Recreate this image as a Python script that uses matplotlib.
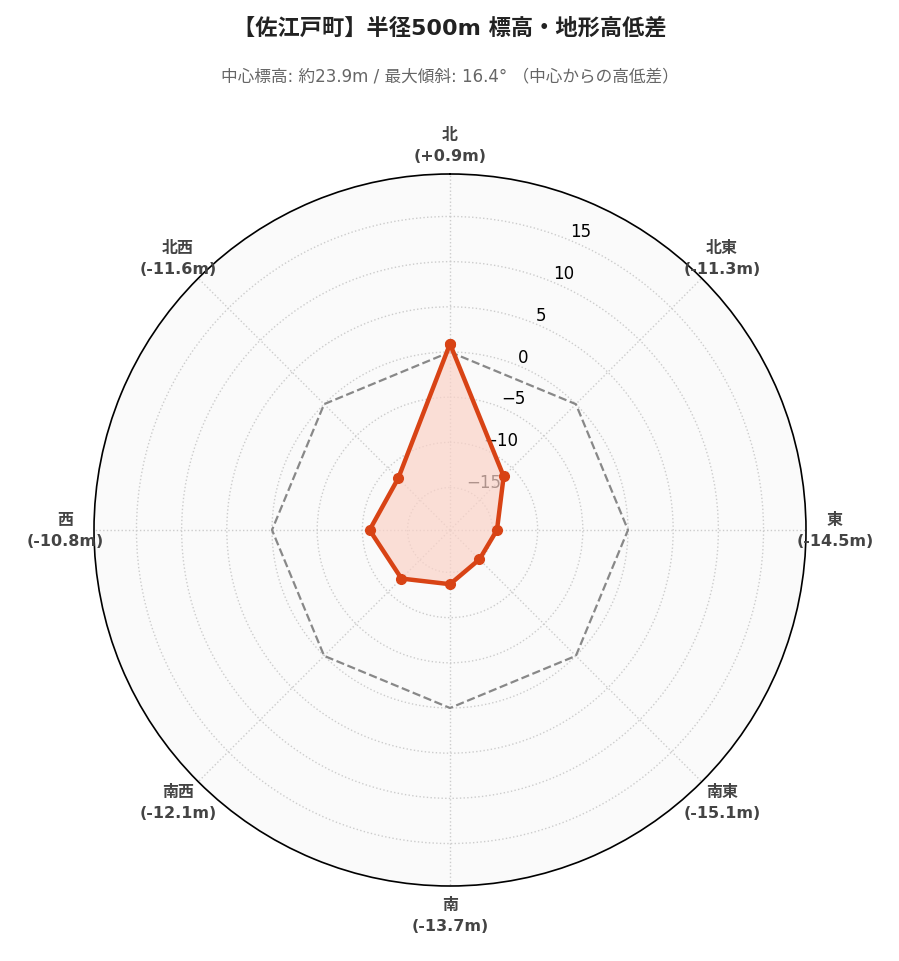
import numpy as np
import matplotlib.pyplot as plt

plt.rcParams['font.family'] = ['DejaVu Sans', 'Noto Sans CJK JP']

directions = ['北', '北東', '東', '南東', '南', '南西', '西', '北西']
diffs = [0.9, -11.3, -14.5, -15.1, -13.7, -12.1, -10.8, -11.6]
rticks = [-15, -10, -5, 0, 5, 10, 15]
rlim = 19.7

angles = np.deg2rad(np.arange(len(directions)) * 45)
ang_closed = np.append(angles, angles[0])
vals_closed = np.append(diffs, diffs[0])

fig = plt.figure(figsize=(8.99, 9.62), dpi=100)
ax = fig.add_axes([94 / 899, 75 / 962, 712 / 899, 712 / 962], projection='polar')
ax.set_theta_zero_location('N')
ax.set_theta_direction(-1)
ax.set_facecolor('#fafafa')
ax.set_ylim(-rlim, rlim)

# zero reference
ax.plot(ang_closed, np.zeros_like(ang_closed), '--', color='#888888', lw=1.6)
ax.fill(ang_closed, vals_closed, color='#fbd3c8', alpha=0.7, zorder=2)
ax.plot(ang_closed, vals_closed, color='#d84315', lw=3.2, marker='o', ms=7, zorder=3)

ax.set_xticks(angles)
ax.set_xticklabels([])
ax.set_yticks(rticks)
ax.set_yticklabels([str(t).replace('-', '\u2212') for t in rticks], fontsize=12)
ax.set_rlabel_position(22.5)
for lbl in ax.get_yticklabels():
    lbl.set_zorder(5)
ax.set_axisbelow(True)
ax.grid(True, color='#cccccc', ls=':', lw=1)
ax.spines['polar'].set_color('black')
ax.spines['polar'].set_linewidth(1.2)

for a, d, v in zip(angles, directions, diffs):
    x = 0.5 + 0.5 * 1.081 * np.sin(a)
    y = 0.5 + 0.5 * 1.081 * np.cos(a)
    ax.text(x, y, f'{d}\n({v:+.1f}m)', transform=ax.transAxes, ha='center', va='center',
            fontsize=11.5, fontweight='bold', color='#444444', linespacing=1.5)

fig.text(0.5, 1 - 28 / 962, '【佐江戸町】半径500m 標高・地形高低差', ha='center', va='center',
         fontsize=16, fontweight='bold', color='#222222')
fig.text(0.5, 1 - 76 / 962, '中心標高: 約23.9m / 最大傾斜: 16.4° （中心からの高低差）', ha='center',
         va='center', fontsize=12, color='#666666')

fig.savefig('out.png', dpi=100)
